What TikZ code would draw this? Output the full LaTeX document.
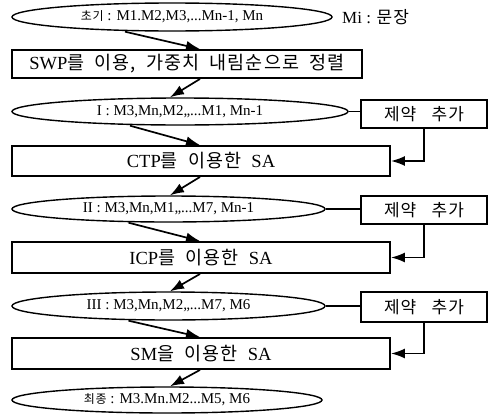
\documentclass[tikz,border=0pt]{standalone}
\usepackage{fontspec}
\setmainfont{Liberation Serif}
\newfontfamily\kr[LetterSpace=6]{Noto Sans CJK KR}
\newcommand\K[1]{{\kr #1}}
\newcommand\ws{\hspace{0.55em}}
\usetikzlibrary{arrows.meta,shapes.geometric,calc}
\begin{document}
\begin{tikzpicture}[x=1pt,y=-1pt,
  ell/.style={draw,line width=1.4pt,ellipse,inner sep=0pt,font=\fontsize{15}{15}\selectfont},
  flowbox/.style={draw,line width=1.9pt,rectangle,inner sep=0pt,font=\fontsize{18.5}{18.5}\selectfont},
  cbox/.style={draw,line width=1.9pt,rectangle,inner sep=0pt,minimum width=126pt,minimum height=28pt,font=\fontsize{17}{17}\selectfont},
  arr/.style={line width=1.7pt,-{Latex[length=14pt,width=10pt]}},
  ln/.style={line width=1.4pt}]
\useasboundingbox (0,0) rectangle (489,415);
% ellipses
\node[ell,minimum width=320pt,minimum height=28pt] (e0) at (172,17) {{\fontsize{12}{12}\selectfont\K{초기}} : M1.M2,M3,...Mn-1, Mn};
\node[ell,minimum width=336pt,minimum height=27pt] (e1) at (180,111.5) {I : M3,Mn,M2,,...M1, Mn-1};
\node[ell,minimum width=313pt,minimum height=26pt] (e2) at (168.5,209) {II : M3,Mn,M1,,...M7, Mn-1};
\node[ell,minimum width=313pt,minimum height=28pt] (e3) at (168.5,306) {III : M3,Mn,M2,,...M7, M6};
\node[ell,minimum width=310pt,minimum height=26pt] (e4) at (167,400) {{\fontsize{12}{12}\selectfont\K{최종}} : M3.Mn.M2...M5, M6};
% legend
\node[anchor=west,inner sep=0pt,font=\fontsize{17}{17}\selectfont] (mi) at (342,17) {Mi : \K{문장}};
% process boxes
\node[flowbox,minimum width=350pt,minimum height=28pt] (b1) at (187,64) {SWP\K{를\ws 이용,\ws 가중치\ws 내림순으로\ws 정렬}};
\node[flowbox,minimum width=378pt,minimum height=30pt] (b2) at (201,161) {CTP\K{를\ws 이용한}\ws SA};
\node[flowbox,minimum width=378pt,minimum height=31pt] (b3) at (201,257.5) {ICP\K{를\ws 이용한}\ws SA};
\node[flowbox,minimum width=378pt,minimum height=31pt] (b4) at (201,353.5) {SM\K{을\ws 이용한}\ws SA};
% constraint boxes
\node[cbox] (c1) at (424,114) {\K{제약\hspace{0.9em}추가}};
\node[cbox] (c2) at (424,210) {\K{제약\hspace{0.9em}추가}};
\node[cbox,minimum height=30pt] (c3) at (424,307) {\K{제약\hspace{0.9em}추가}};
% main flow arrows
\draw[arr] ([xshift=-47pt]e0.south) -- ([xshift=13pt]b1.north);
\draw[arr] ([xshift=13pt]b1.south) -- ([xshift=-10pt]e1.north);
\draw[arr] ([xshift=-50pt]e1.south) -- ([xshift=-1pt]b2.north);
\draw[arr] ([xshift=-1pt]b2.south) -- ([xshift=1.5pt]e2.north);
\draw[arr] ([xshift=-40pt]e2.south) -- ([xshift=-1pt]b3.north);
\draw[arr] ([xshift=-1pt]b3.south) -- ([xshift=1.5pt]e3.north);
\draw[arr] ([xshift=-40pt]e3.south) -- ([xshift=-1pt]b4.north);
\draw[arr] ([xshift=-1pt]b4.south) -- ([xshift=3pt]e4.north);
% constraint connectors
\draw[ln] (e1.east) -- (e1.east -| c1.west);
\draw[ln] (e2.east) -- (e2.east -| c2.west);
\draw[ln] (e3.east) -- (e3.east -| c3.west);
\draw[arr] (c1.south) |- (b2.east);
\draw[arr] (c2.south) |- (b3.east);
\draw[arr] (c3.south) |- (b4.east);
\end{tikzpicture}
\end{document}
